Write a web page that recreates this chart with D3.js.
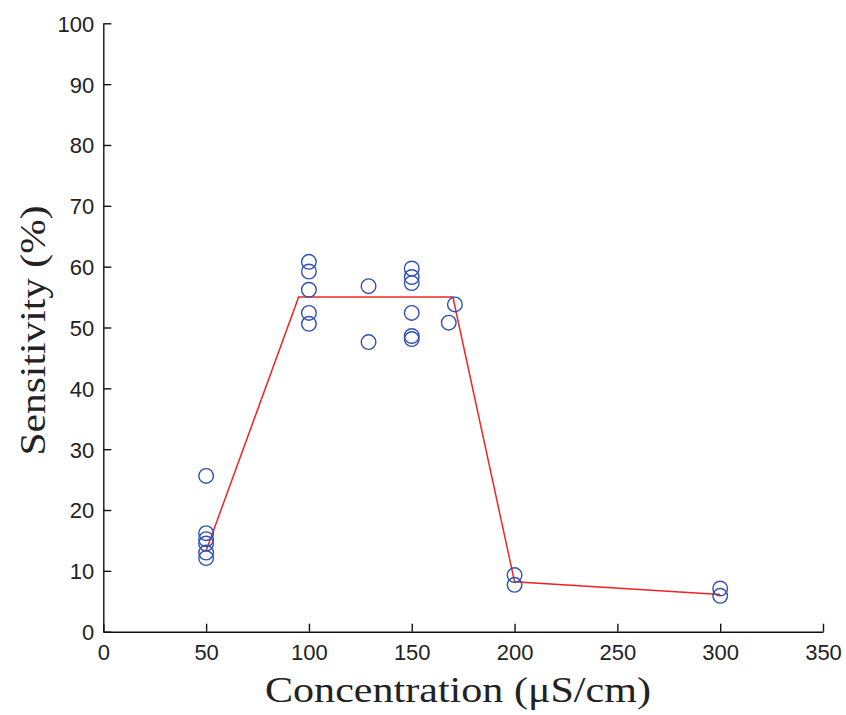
<!DOCTYPE html>
<html>
<head>
<meta charset="utf-8">
<script src="https://cdn.jsdelivr.net/npm/d3@7"></script>
<style>
  html, body { margin: 0; padding: 0; background: #fff; }
  svg { display: block; }
</style>
</head>
<body>
<svg id="chart" width="846" height="715"></svg>
<script>
// Measured sensitivity at each conductivity concentration
const concentration = [50, 50, 50, 50, 50, 50,
  100, 100, 100, 100, 100,
  129, 129,
  150, 150, 150, 150, 150, 150,
  168, 171,
  200, 200,
  300, 300];
const sensitivity = [25.6, 16.2, 15.2, 14.5, 13.0, 12.1,
  60.8, 59.2, 56.2, 52.4, 50.6,
  56.8, 47.6,
  59.7, 58.3, 57.3, 52.4, 48.6, 48.1,
  50.8, 53.8,
  9.3, 7.7,
  7.1, 5.9];

// Piecewise fitted trend
const fitX = [50, 95, 170, 200, 300];
const fitY = [13.3, 55, 55, 8.2, 6.1];

const xTicks = [0, 50, 100, 150, 200, 250, 300, 350];
const yTicks = [0, 10, 20, 30, 40, 50, 60, 70, 80, 90, 100];

const svg = d3.select("#chart");
const x = d3.scaleLinear().domain([0, 350]).range([103.3, 823]);
const y = d3.scaleLinear().domain([0, 100]).range([631.7, 23.3]);

const tickFont = "'Liberation Sans', Arial, sans-serif";

// Bottom axis with inward ticks
const xAxis = svg.append("g")
  .attr("transform", `translate(0,${y(0)})`)
  .call(d3.axisBottom(x).tickValues(xTicks).tickSizeInner(-8).tickSizeOuter(0).tickPadding(0))
  .call(g => g.select(".domain").attr("stroke", "#111").attr("stroke-width", 1.4));
xAxis.selectAll(".tick line").attr("stroke", "#111").attr("stroke-width", 1.4);
xAxis.selectAll(".tick text")
  .attr("y", 28).attr("dy", 0)
  .attr("fill", "#222")
  .style("font-family", tickFont).style("font-size", "22px");

// Left axis with inward ticks
const yAxis = svg.append("g")
  .attr("transform", `translate(${x(0)},0)`)
  .call(d3.axisLeft(y).tickValues(yTicks).tickSizeInner(-8).tickSizeOuter(0).tickPadding(0))
  .call(g => g.select(".domain").attr("stroke", "#111").attr("stroke-width", 1.4));
yAxis.selectAll(".tick line").attr("stroke", "#111").attr("stroke-width", 1.4);
yAxis.selectAll(".tick text")
  .attr("x", -9).attr("dy", "0.36em")
  .attr("fill", "#222")
  .style("font-family", tickFont).style("font-size", "22px");

// Trend line
const line = d3.line().x(d => x(d[0])).y(d => y(d[1]));
svg.append("path")
  .datum(fitX.map((v, i) => [v, fitY[i]]))
  .attr("d", line)
  .attr("fill", "none")
  .attr("stroke", "#f02424")
  .attr("stroke-width", 1.5);

// Measurement markers
svg.append("g").selectAll("circle")
  .data(concentration.map((c, i) => [c, sensitivity[i]]))
  .join("circle")
  .attr("cx", d => x(d[0]))
  .attr("cy", d => y(d[1]))
  .attr("r", 7.3)
  .attr("fill", "none")
  .attr("stroke", "#3050b4")
  .attr("stroke-width", 1.4);

const labelFont = "'Liberation Serif', 'DejaVu Serif', serif";

svg.append("text")
  .attr("x", 458).attr("y", 702)
  .attr("text-anchor", "middle")
  .attr("textLength", 386)
  .attr("lengthAdjust", "spacingAndGlyphs")
  .attr("fill", "#222")
  .style("font-family", labelFont).style("font-size", "35px")
  .text("Concentration (μS/cm)");

svg.append("text")
  .attr("transform", `translate(45,${(y(0) + y(100)) / 2 + 3}) rotate(-90)`)
  .attr("text-anchor", "middle")
  .attr("textLength", 250)
  .attr("lengthAdjust", "spacingAndGlyphs")
  .attr("fill", "#222")
  .style("font-family", labelFont).style("font-size", "35px")
  .text("Sensitivity (%)");
</script>
</body>
</html>
